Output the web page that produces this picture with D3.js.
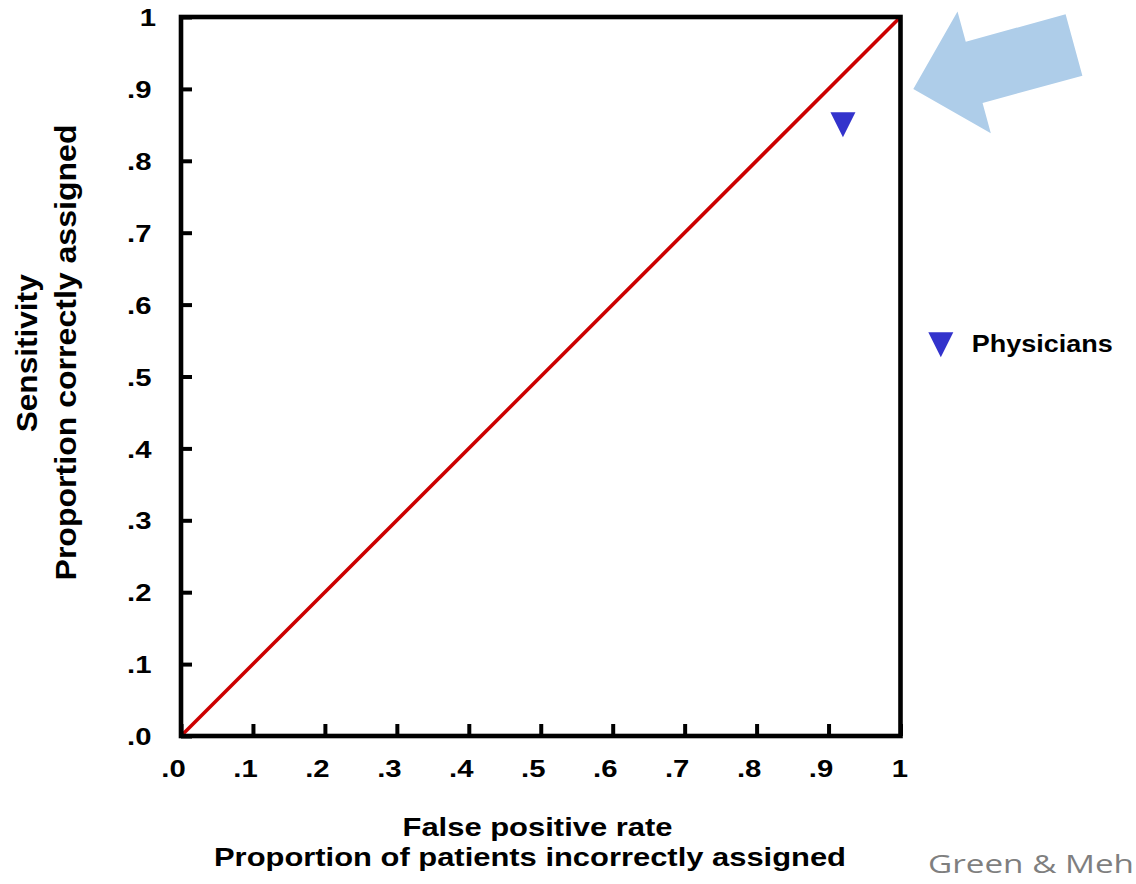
<!DOCTYPE html>
<html>
<head>
<meta charset="utf-8">
<script src="https://cdn.jsdelivr.net/npm/d3@7"></script>
<style>
  body { margin: 0; background: #fff; }
  text { font-family: "Liberation Sans", Arial, Helvetica, sans-serif; font-weight: bold; fill: #000; }
</style>
</head>
<body>
<svg id="chart" width="1136" height="884"></svg>
<script>
// ---------- data ----------
const tickValues  = [0, 0.1, 0.2, 0.3, 0.4, 0.5, 0.6, 0.7, 0.8, 0.9, 1];
const xTickLabels = [".0", ".1", ".2", ".3", ".4", ".5", ".6", ".7", ".8", ".9", "1"];
const yTickLabels = [".0", ".1", ".2", ".3", ".4", ".5", ".6", ".7", ".8", ".9", "1"];
const chanceX = [0, 1];
const chanceY = [0, 1];
const seriesNames = ["Physicians"];
const fprValues  = [0.92];
const sensValues = [0.85];
const xTitleLines = ["False positive rate", "Proportion of patients incorrectly assigned"];
const yTitleLines = ["Sensitivity", "Proportion correctly assigned"];
const sourceNote = "Green & Meh";

// ---------- layout ----------
const svg = d3.select("#chart");
svg.append("rect").attr("width", 1136).attr("height", 884).attr("fill", "#fff");

const x = d3.scaleLinear().domain([0, 1]).range([181, 900.5]);
const y = d3.scaleLinear().domain([0, 1]).range([736, 17]);
const K = 1.22; // horizontal text stretch seen in the reference

function stretch(sel, k) {
  sel.each(function () {
    const w = this.getComputedTextLength();
    d3.select(this).attr("textLength", w * k).attr("lengthAdjust", "spacingAndGlyphs");
  });
}

// chance diagonal
svg.append("path")
  .datum(chanceX.map((d, i) => [d, chanceY[i]]))
  .attr("d", d3.line().x(d => x(d[0])).y(d => y(d[1])))
  .attr("stroke", "#cc0000").attr("stroke-width", 3.6).attr("fill", "none");

// frame
svg.append("rect")
  .attr("x", x(0)).attr("y", y(1))
  .attr("width", x(1) - x(0)).attr("height", y(0) - y(1))
  .attr("fill", "none").attr("stroke", "#000").attr("stroke-width", 4.6);

// bottom axis
const gx = svg.append("g").attr("transform", `translate(0,${y(0)})`)
  .call(d3.axisBottom(x).tickValues(tickValues).tickSizeInner(-12).tickSizeOuter(0)
    .tickFormat((d, i) => xTickLabels[i]));
gx.select(".domain").remove();
gx.selectAll(".tick line").attr("stroke", "#000").attr("stroke-width", 4);
gx.selectAll(".tick text")
  .attr("y", 40.5).attr("dy", 0)
  .attr("x", (d, i) => xTickLabels[i].startsWith(".") ? -8 : -1)
  .attr("text-anchor", "middle")
  .attr("font-family", null).attr("font-size", null)
  .style("font-size", "24px")
  .attr("fill", "#000");
stretch(gx.selectAll(".tick text"), K);

// left axis
const gy = svg.append("g").attr("transform", `translate(${x(0)},0)`)
  .call(d3.axisLeft(y).tickValues(tickValues).tickSizeInner(-11).tickSizeOuter(0)
    .tickFormat((d, i) => yTickLabels[i]));
gy.select(".domain").remove();
gy.selectAll(".tick line").attr("stroke", "#000").attr("stroke-width", 4);
gy.selectAll(".tick text")
  .attr("x", (d, i) => yTickLabels[i].startsWith(".") ? -29.5 : -25)
  .attr("dy", "0.36em")
  .attr("text-anchor", "end")
  .attr("font-family", null).attr("font-size", null)
  .style("font-size", "24px")
  .attr("fill", "#000");
stretch(gy.selectAll(".tick text"), K);

// markers
const triW = 25, triH = 25;
function triDown(cx, cy) {
  return `M${cx - triW / 2},${cy - triH / 2}L${cx + triW / 2},${cy - triH / 2}L${cx},${cy + triH / 2}Z`;
}
svg.selectAll(".pt").data(fprValues.map((d, i) => ({ fx: d, sy: sensValues[i] })))
  .enter().append("path").attr("class", "pt")
  .attr("d", d => triDown(x(d.fx), y(d.sy)))
  .attr("fill", "#3333cc");

// legend
const lg = svg.append("g").attr("transform", "translate(940.8,344.8)");
seriesNames.forEach((name, i) => {
  lg.append("path").attr("d", triDown(0, i * 30)).attr("fill", "#3333cc");
  lg.append("text").attr("x", 31).attr("y", i * 30 + 7)
    .style("font-size", "23px").attr("textLength", 141).attr("lengthAdjust", "spacingAndGlyphs")
    .text(name);
});

// axis titles
const xTitleSpec = [{ cx: 537.5, by: 835.5, len: 270 }, { cx: 530, by: 866, len: 632 }];
xTitleLines.forEach((t, i) => {
  svg.append("text").attr("x", xTitleSpec[i].cx).attr("y", xTitleSpec[i].by)
    .attr("text-anchor", "middle").style("font-size", "25.5px")
    .attr("textLength", xTitleSpec[i].len).attr("lengthAdjust", "spacingAndGlyphs")
    .text(t);
});
const yTitleSpec = [{ bx: 37, cy: 353.3, len: 158 }, { bx: 75.5, cy: 352.5, len: 456 }];
yTitleLines.forEach((t, i) => {
  svg.append("text")
    .attr("transform", `translate(${yTitleSpec[i].bx},${yTitleSpec[i].cy}) rotate(-90)`)
    .attr("text-anchor", "middle").style("font-size", "29.5px")
    .attr("textLength", yTitleSpec[i].len).attr("lengthAdjust", "spacingAndGlyphs")
    .text(t);
});

// highlight arrow (annotation pointing at the top-right corner)
const arrowLen = 166.6, shaftW = 63.6, headW = 126.2, headLen = 63.1;
const arrowPts = [
  [0, -shaftW / 2], [arrowLen - headLen, -shaftW / 2], [arrowLen - headLen, -headW / 2],
  [arrowLen, 0],
  [arrowLen - headLen, headW / 2], [arrowLen - headLen, shaftW / 2], [0, shaftW / 2]
];
svg.append("path")
  .attr("d", d3.line()(arrowPts) + "Z")
  .attr("transform", "translate(1074,45) rotate(164.7)")
  .attr("fill", "#aecde9");

// source note
svg.append("text").attr("x", 928).attr("y", 872.5)
  .style("font-family", "'Open Sans', 'Noto Sans', sans-serif").style("font-weight", "normal")
  .style("font-size", "25px").style("fill", "#7f7f7f")
  .attr("textLength", 206).attr("lengthAdjust", "spacingAndGlyphs")
  .text(sourceNote);
</script>
</body>
</html>
